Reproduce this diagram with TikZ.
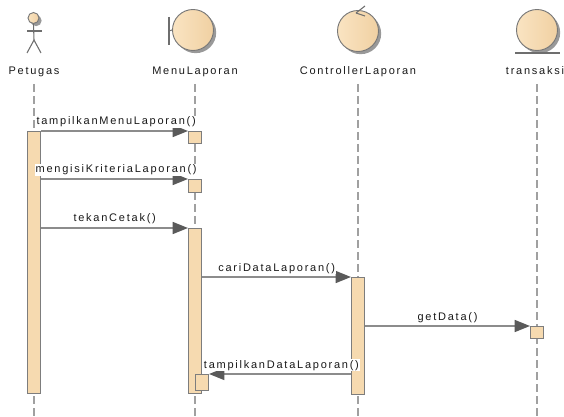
\documentclass[tikz,border=0pt]{standalone}
\usepackage{fontspec}
\newfontfamily\umlfont{Liberation Sans}[LetterSpace=16]
\usetikzlibrary{arrows.meta,shadows}
\definecolor{beige}{RGB}{246,218,176}
\definecolor{beigelight}{RGB}{250,228,194}
\definecolor{beigedark}{RGB}{240,208,162}
\definecolor{lifegray}{RGB}{160,160,160}
\definecolor{actborder}{RGB}{125,125,125}
\definecolor{msggray}{RGB}{140,140,140}
\definecolor{tipgray}{RGB}{90,90,90}
\definecolor{circborder}{RGB}{120,120,120}
\definecolor{stick}{RGB}{110,110,110}
\definecolor{txt}{RGB}{25,25,25}
\begin{document}
\begin{tikzpicture}[x=0.75pt,y=-0.75pt,
  font=\umlfont\fontsize{8.25pt}{10pt}\selectfont,
  life/.style={draw=lifegray, line width=0.9pt, dash pattern=on 6pt off 3pt},
  act/.style={draw=actborder, fill=beige, line width=0.8pt, anchor=north west, inner sep=0pt, minimum width=10pt},
  msg/.style={draw=msggray, line width=1.1pt, -{Triangle[length=11.5pt,width=9pt,color=tipgray]}},
  lbl/.style={fill=white, inner sep=0.6pt, anchor=base, text=txt, yshift=4.5pt},
  hdr/.style={anchor=base, inner sep=0pt, text=txt},
  circ/.style={circle, draw=circborder, line width=0.7pt, left color=beigelight, right color=beigedark,
    minimum size=30.75pt, inner sep=0pt,
    drop shadow={shadow xshift=2pt, shadow yshift=-2pt, fill=black!40, opacity=1}},
  fig/.style={draw=stick, line width=0.8pt}
]
\useasboundingbox (0,0) rectangle (564,417);

% ---- header symbols ----
% actor
\node[circ, minimum size=8.25pt, drop shadow={shadow xshift=1pt, shadow yshift=-1pt, fill=black!40, opacity=1}] (head) at (33.5,18) {};
\coordinate (hip) at (34,40);
\draw[fig] (head.south) -- (hip);
\draw[fig] (27,31) -- (42,31);
\draw[fig] (hip) -- (27,53);
\draw[fig] (hip) -- (41,53);
% boundary
\node[circ] (menu) at (193,30) {};
\draw[fig] (169,17) -- (169,45);
\draw[fig] (169,31) -- (menu.west);
% control
\node[circ] (ctrl) at (358,31) {};
\draw[fig] (356,13) -- (365,6);
\draw[fig] (356,13) -- (365,16);
% entity
\node[circ] (ent) at (537,30) {};
\draw[fig] (515,53) -- (560,53);

% ---- header labels ----
\node[hdr] (tPet) at (34,75) {Petugas};
\node[hdr] (tMenu) at (195,75) {MenuLaporan};
\node[hdr] (tCtrl) at (358,75) {ControllerLaporan};
\node[hdr] (tEnt) at (535,75) {transaksi};

% ---- lifelines ----
\coordinate (l1t) at (34,84);  \coordinate (l1b) at (34,417);
\coordinate (l2t) at (195,84); \coordinate (l2b) at (195,417);
\coordinate (l3t) at (358,84); \coordinate (l3b) at (358,417);
\coordinate (l4t) at (537,84); \coordinate (l4b) at (537,417);
\draw[life] (l1t) -- (l1b);
\draw[life] (l2t) -- (l2b);
\draw[life] (l3t) -- (l3b);
\draw[life] (l4t) -- (l4b);

% ---- activations ----
\node[act, minimum height=196.5pt] (pa) at (27,131) {};
\node[act, minimum height=9pt] (mb1) at (188,131) {};
\node[act, minimum height=9.75pt] (mb2) at (188,179) {};
\node[act, minimum height=123.75pt] (ma) at (188,228) {};
\node[act, minimum height=12pt, minimum width=9.75pt] (mb3) at (195,374) {};
\node[act, minimum height=87.75pt, minimum width=9.75pt] (ca) at (351,277) {};
\node[act, minimum height=9pt, minimum width=9.75pt] (tb) at (530,326) {};

% ---- messages ----
\draw[msg] (pa.north east) -- (mb1.north west) node[lbl, pos=0.51] (m1) {tampilkanMenuLaporan()};
\draw[msg] (pa.east |- mb2.north west) -- (mb2.north west) node[lbl, pos=0.51] (m2) {mengisiKriteriaLaporan()};
\draw[msg] (pa.east |- ma.north west) -- (ma.north west) node[lbl, pos=0.5] (m3) {tekanCetak()};
\draw[msg] (ma.east |- ca.north west) -- (ca.north west) node[lbl, pos=0.5] (m4) {cariDataLaporan()};
\draw[msg] (ca.east |- tb.north west) -- (tb.north west) node[lbl, pos=0.5] (m5) {getData()};
\draw[msg] (ca.west |- mb3.north east) -- (mb3.north east) node[lbl, pos=0.49] (m6) {tampilkanDataLaporan()};
\end{tikzpicture}
\end{document}
